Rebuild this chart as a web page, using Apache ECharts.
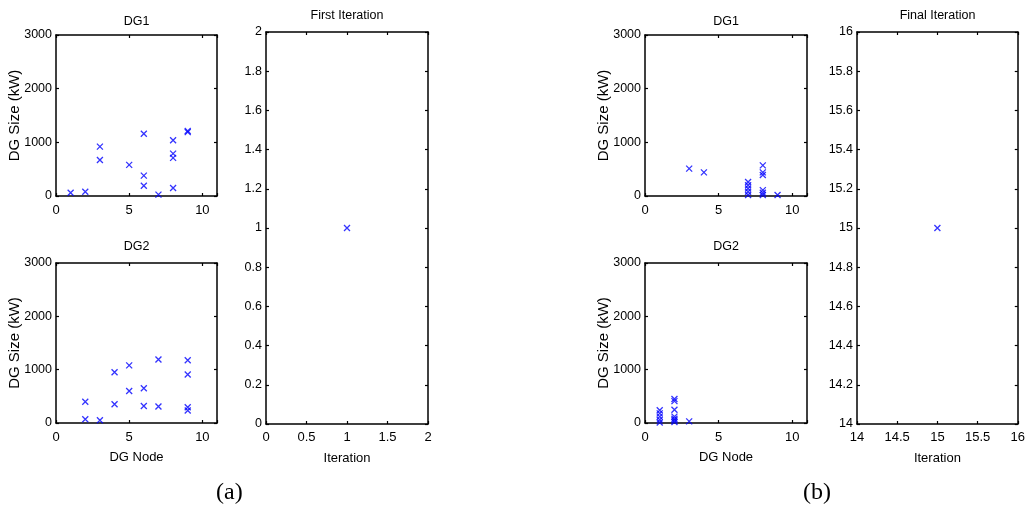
<!DOCTYPE html>
<html><head><meta charset="utf-8">
<script src="https://cdn.jsdelivr.net/npm/echarts@6/dist/echarts.min.js"></script>
<style>html,body{margin:0;padding:0;background:#fff}#c{width:1028px;height:515px}</style>
</head><body><div id="c"></div>
<script>
// Panel (a) First iteration
const aDG1Node = [1, 2, 3, 3, 5, 6, 6, 6, 7, 8, 8, 8, 8, 9, 9];
const aDG1Size = [60, 80, 920, 670, 580, 1160, 380, 190, 25, 1040, 790, 710, 150, 1190, 1210];
const aDG2Node = [2, 2, 3, 4, 4, 5, 5, 6, 6, 7, 7, 9, 9, 9, 9];
const aDG2Size = [400, 70, 50, 950, 350, 1080, 600, 650, 320, 1190, 310, 1175, 910, 295, 235];
const aIterX = [1];
const aIterY = [1];
// Panel (b) Final iteration
const bDG1Node = [3, 4, 7, 7, 7, 7, 7, 8, 8, 8, 8, 8, 8, 9];
const bDG1Size = [510, 440, 260, 200, 140, 80, 20, 570, 440, 390, 110, 60, 20, 20];
const bDG2Node = [1, 1, 1, 1, 1, 2, 2, 2, 2, 2, 2, 2, 3];
const bDG2Size = [240, 180, 120, 60, 10, 450, 410, 250, 120, 80, 50, 20, 30];
const bIterX = [15];
const bIterY = [15];

const FONT = "'Liberation Sans', Arial, sans-serif";
const AX = '#000';

const grids = [
  {left: 56, top: 35, width: 161, height: 161},
  {left: 56, top: 263, width: 161, height: 160},
  {left: 266, top: 32, width: 162, height: 392},
  {left: 645, top: 35, width: 162, height: 161},
  {left: 645, top: 263, width: 162, height: 160},
  {left: 857, top: 32, width: 161, height: 392}
];
const titleCenterY = [22, 247, 16, 22, 247, 16];

const specs = [
  {x: aDG1Node, y: aDG1Size, xr: [0, 11, 5], yr: [0, 3000, 1000], xname: '', yname: 'DG Size (kW)', title: 'DG1'},
  {x: aDG2Node, y: aDG2Size, xr: [0, 11, 5], yr: [0, 3000, 1000], xname: 'DG Node', yname: 'DG Size (kW)', title: 'DG2'},
  {x: aIterX, y: aIterY, xr: [0, 2, 0.5], yr: [0, 2, 0.2], xname: 'Iteration', yname: '', title: 'First Iteration'},
  {x: bDG1Node, y: bDG1Size, xr: [0, 11, 5], yr: [0, 3000, 1000], xname: '', yname: 'DG Size (kW)', title: 'DG1'},
  {x: bDG2Node, y: bDG2Size, xr: [0, 11, 5], yr: [0, 3000, 1000], xname: 'DG Node', yname: 'DG Size (kW)', title: 'DG2'},
  {x: bIterX, y: bIterY, xr: [14, 16, 0.5], yr: [14, 16, 0.2], xname: 'Iteration', yname: '', title: 'Final Iteration'}
];

function fmt(v, step, min, max) {
  const k = (v - min) / step;
  if (Math.abs(k - Math.round(k)) > 1e-6) return '';
  return String(Math.round(v * 10) / 10);
}

const xAxis = [], yAxis = [], series = [], title = [];
specs.forEach((s, i) => {
  const g = grids[i];
  const lineStyle = {color: AX, width: 1.5};
  const tick = {show: true, inside: true, length: 3, lineStyle: {color: AX, width: 1.2}};
  const isIter = s.xname === 'Iteration';
  xAxis.push({
    type: 'value', gridIndex: i, position: 'bottom', min: s.xr[0], max: s.xr[1], interval: s.xr[2],
    axisLine: {show: true, onZero: false, lineStyle}, axisTick: tick, splitLine: {show: false},
    axisLabel: {color: '#000', fontFamily: FONT, fontSize: 13, margin: isIter ? 7 : 8,
      formatter: v => fmt(v, s.xr[2], s.xr[0], s.xr[1])},
    name: s.xname, nameLocation: 'middle', nameGap: 28, nameMoveOverlap: false,
    nameTextStyle: {color: '#000', fontFamily: FONT, fontSize: 13}
  });
  xAxis.push({
    type: 'value', gridIndex: i, position: 'top', min: s.xr[0], max: s.xr[1], interval: s.xr[2],
    axisLine: {show: true, onZero: false, lineStyle}, axisTick: tick, splitLine: {show: false},
    axisLabel: {show: false}
  });
  yAxis.push({
    type: 'value', gridIndex: i, position: 'left', min: s.yr[0], max: s.yr[1], interval: s.yr[2],
    axisLine: {show: true, onZero: false, lineStyle}, axisTick: tick, splitLine: {show: false},
    axisLabel: {color: '#000', fontFamily: FONT, fontSize: 12.5, margin: 4,
      formatter: v => fmt(v, s.yr[2], s.yr[0], s.yr[1])},
    name: s.yname, nameLocation: 'middle', nameGap: 34, nameRotate: 90, nameMoveOverlap: false,
    nameTextStyle: {color: '#000', fontFamily: FONT, fontSize: 15}
  });
  yAxis.push({
    type: 'value', gridIndex: i, position: 'right', min: s.yr[0], max: s.yr[1], interval: s.yr[2],
    axisLine: {show: true, onZero: false, lineStyle}, axisTick: tick, splitLine: {show: false},
    axisLabel: {show: false}
  });
  series.push({
    type: 'scatter', xAxisIndex: 2 * i, yAxisIndex: 2 * i,
    data: s.x.map((v, k) => [v, s.y[k]]),
    symbol: 'path://M0,0L10,10M10,0L0,10', symbolSize: 6,
    itemStyle: {color: 'none', borderColor: '#0000ff', borderWidth: 1.3},
    silent: true, animation: false
  });
  title.push({
    text: s.title, left: g.left + g.width / 2, top: titleCenterY[i] - 7, textAlign: 'center', padding: 0,
    textStyle: {color: '#000', fontFamily: FONT, fontSize: 12.5, fontWeight: 'normal'}
  });
});

const chart = echarts.init(document.getElementById('c'), null, {renderer: 'canvas'});
chart.setOption({
  animation: false,
  backgroundColor: '#fff',
  title,
  grid: grids.map(g => Object.assign({containLabel: false}, g)),
  xAxis, yAxis, series,
  graphic: [
    {type: 'text', left: 216, top: 481, style: {text: '(a)', font: "24px 'Liberation Serif', 'Times New Roman', serif", fill: '#000'}},
    {type: 'text', left: 803, top: 481, style: {text: '(b)', font: "24px 'Liberation Serif', 'Times New Roman', serif", fill: '#000'}}
  ]
});
</script></body></html>
